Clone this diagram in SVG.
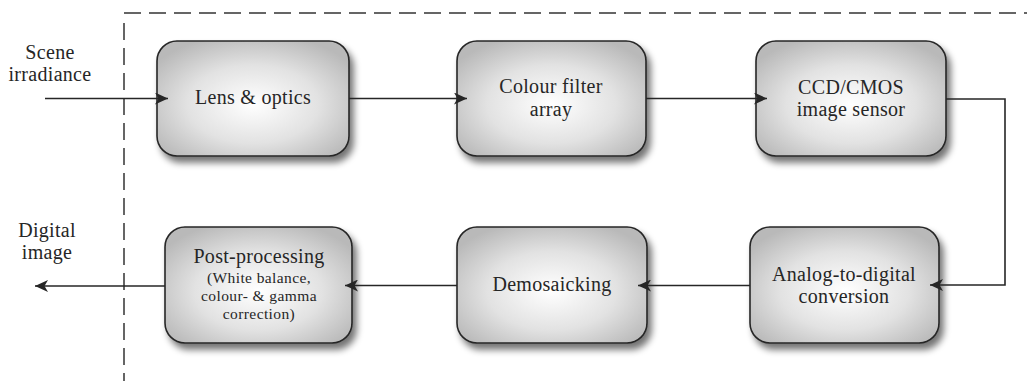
<svg xmlns="http://www.w3.org/2000/svg" width="1027" height="381" viewBox="0 0 1027 381">
<style>
.box{fill:url(#g);stroke:#262626;stroke-width:1.6;filter:url(#sh)}
.t{font-family:'Liberation Serif','Times New Roman','DejaVu Serif',serif;font-size:20px;fill:#262626;text-anchor:middle;letter-spacing:0.3px}
.s{font-size:15.5px;letter-spacing:0.4px}
.c{fill:none;stroke:#262626;stroke-width:1.6}
.d{fill:none;stroke:#333;stroke-width:1.5;stroke-dasharray:17 8}
</style>
<defs>
<radialGradient id="g" cx="0.5" cy="0.55" r="0.62">
<stop offset="0" stop-color="#ffffff"/>
<stop offset="0.55" stop-color="#e2e2e2"/>
<stop offset="1" stop-color="#b9b9b9"/>
</radialGradient>
<filter id="sh" x="-20%" y="-20%" width="150%" height="150%">
<feGaussianBlur in="SourceAlpha" stdDeviation="3.5"/>
<feOffset dx="4" dy="6" result="b"/>
<feComponentTransfer in="b" result="b2"><feFuncA type="linear" slope="0.55"/></feComponentTransfer>
<feMerge><feMergeNode in="b2"/><feMergeNode in="SourceGraphic"/></feMerge>
</filter>
<marker id="ah" markerUnits="userSpaceOnUse" markerWidth="14" markerHeight="12" refX="13" refY="6" orient="auto">
<path d="M0,0 L13,6 L0,12 L3.5,6 z" fill="#262626"/>
</marker>
</defs>
<g id="boundary">
<path class="d" d="M124,13 H1027"/>
<path class="d" d="M124,23 V381"/>
</g>
<g id="lens"><rect class="box" x="157" y="41" width="192" height="115" rx="20"/><text class="t" font-family="Liberation Serif, serif" x="253" y="104">Lens &amp; optics</text></g>
<g id="cfa"><rect class="box" x="457" y="41" width="189" height="115" rx="20"/><text class="t" font-family="Liberation Serif, serif" x="551" y="93">Colour filter</text><text class="t" font-family="Liberation Serif, serif" x="551" y="116">array</text></g>
<g id="sensor"><rect class="box" x="756" y="41" width="190" height="115" rx="20"/><text class="t" font-family="Liberation Serif, serif" x="851" y="94">CCD/CMOS</text><text class="t" font-family="Liberation Serif, serif" x="851" y="116">image sensor</text></g>
<g id="adc"><rect class="box" x="750" y="227" width="189" height="116" rx="20"/><text class="t" font-family="Liberation Serif, serif" x="844" y="281">Analog-to-digital</text><text class="t" font-family="Liberation Serif, serif" x="844" y="303">conversion</text></g>
<g id="demosaic"><rect class="box" x="457" y="227" width="190" height="116" rx="20"/><text class="t" font-family="Liberation Serif, serif" x="552" y="291">Demosaicking</text></g>
<g id="post"><rect class="box" x="165" y="227" width="187" height="116" rx="20"/><text class="t" font-family="Liberation Serif, serif" x="259" y="263">Post-processing</text><text class="t s" font-family="Liberation Serif, serif" x="259" y="283">(White balance,</text><text class="t s" font-family="Liberation Serif, serif" x="259" y="301">colour- &amp; gamma</text><text class="t s" font-family="Liberation Serif, serif" x="259" y="319">correction)</text></g>
<g id="labels">
<text class="t" font-family="Liberation Serif, serif" x="50" y="59">Scene</text><text class="t" font-family="Liberation Serif, serif" x="50" y="81">irradiance</text>
<text class="t" font-family="Liberation Serif, serif" x="47" y="237">Digital</text><text class="t" font-family="Liberation Serif, serif" x="47" y="259">image</text>
</g>
<g id="connectors">
<path class="c" d="M45,98.5 H168" marker-end="url(#ah)"/>
<path class="c" d="M349,98.5 H467" marker-end="url(#ah)"/>
<path class="c" d="M646,98.5 H767" marker-end="url(#ah)"/>
<path class="c" d="M946,99 H1005 V285 H930" marker-end="url(#ah)"/>
<path class="c" d="M750,285.5 H638" marker-end="url(#ah)"/>
<path class="c" d="M457,285.5 H345" marker-end="url(#ah)"/>
<path class="c" d="M165,286 H35" marker-end="url(#ah)"/>
</g>
</svg>
